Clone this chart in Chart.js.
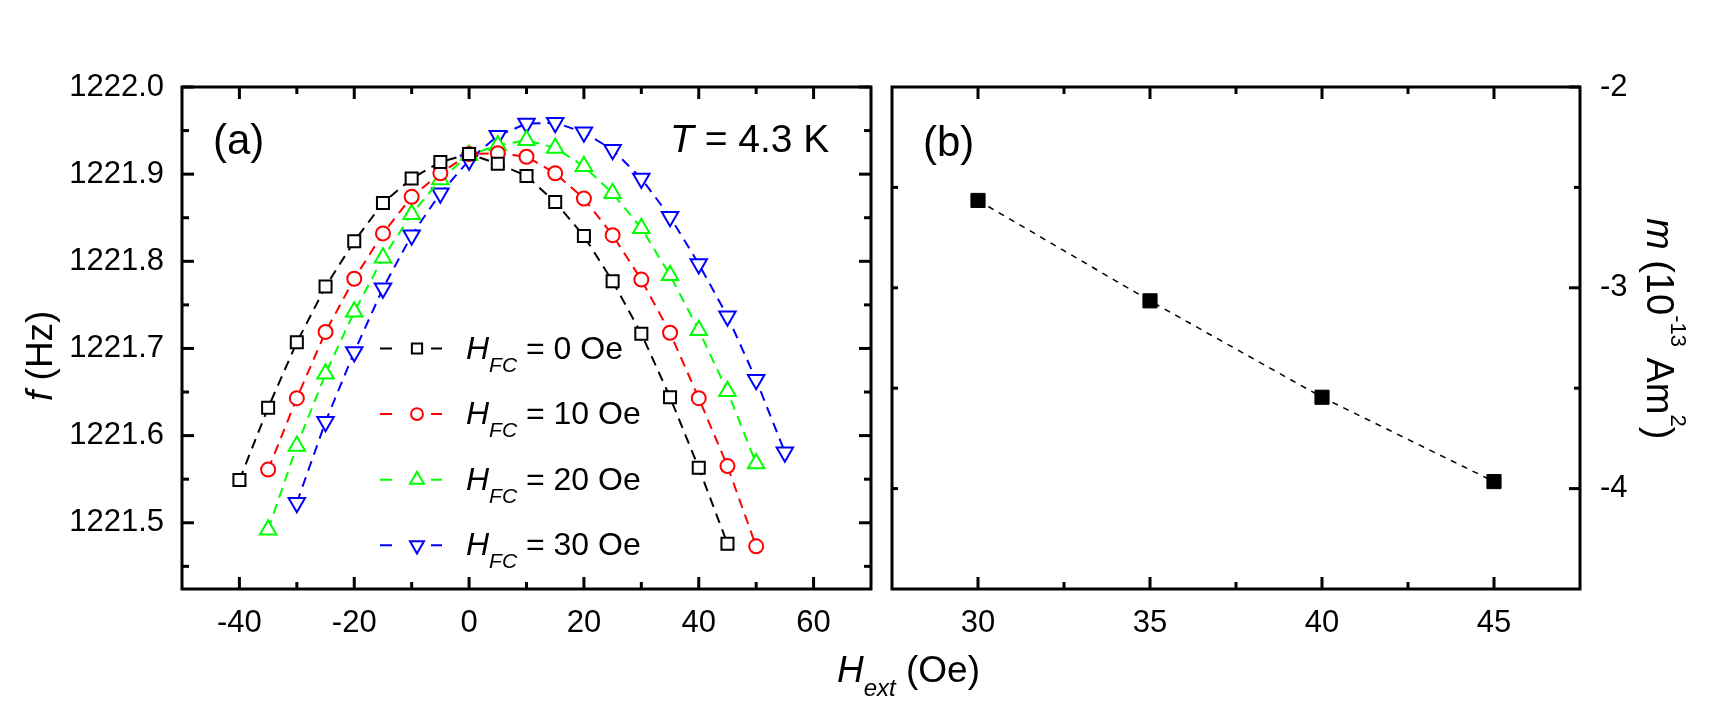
<!DOCTYPE html>
<html>
<head>
<meta charset="utf-8">
<script src="https://cdn.jsdelivr.net/npm/chart.js@4.4.0/dist/chart.umd.min.js"></script>
<style>
  html, body { margin: 0; padding: 0; background: #fff; }
  #wrap { position: relative; width: 1725px; height: 711px; }
  #wrap canvas { position: absolute; left: 0; top: 0; }
</style>
</head>
<body>
<div id="wrap">
  <canvas id="chartA" width="1725" height="711"></canvas>
  <canvas id="chartB" width="1725" height="711"></canvas>
</div>
<script>
const FONT = '"Liberation Sans", Arial, sans-serif';

// panel (a): resonance frequency vs external field, one curve per cooling field
const hFc0X = [-40, -35, -30, -25, -20, -15, -10, -5, 0, 5, 10, 15, 20, 25, 30, 35, 40, 45];
const hFc0Y = [1221.549, 1221.632, 1221.707, 1221.771, 1221.823, 1221.867, 1221.895, 1221.914, 1221.923,
               1221.912, 1221.898, 1221.868, 1221.829, 1221.777, 1221.717, 1221.644, 1221.563, 1221.476];
const hFc10X = [-35, -30, -25, -20, -15, -10, -5, 0, 5, 10, 15, 20, 25, 30, 35, 40, 45, 50];
const hFc10Y = [1221.561, 1221.643, 1221.719, 1221.780, 1221.832, 1221.874, 1221.901, 1221.923, 1221.924,
                1221.920, 1221.901, 1221.872, 1221.830, 1221.779, 1221.718, 1221.643, 1221.565, 1221.473];
const hFc20X = [-35, -30, -25, -20, -15, -10, -5, 0, 5, 10, 15, 20, 25, 30, 35, 40, 45, 50];
const hFc20Y = [1221.492, 1221.588, 1221.671, 1221.742, 1221.804, 1221.854, 1221.894, 1221.922, 1221.933,
                1221.939, 1221.930, 1221.909, 1221.878, 1221.838, 1221.784, 1221.721, 1221.651, 1221.568];
const hFc30X = [-30, -25, -20, -15, -10, -5, 0, 5, 10, 15, 20, 25, 30, 35, 40, 45, 50, 55];
const hFc30Y = [1221.523, 1221.616, 1221.696, 1221.769, 1221.830, 1221.878, 1221.916, 1221.944, 1221.958,
                1221.959, 1221.948, 1221.928, 1221.895, 1221.851, 1221.797, 1221.737, 1221.664, 1221.581];
const legendLabels = [' = 0 Oe', ' = 10 Oe', ' = 20 Oe', ' = 30 Oe'];

const hTicksA = [-40, -20, 0, 20, 40, 60];
const hMinorA = [-30, -10, 10, 30, 50];
const fTicks = [1221.5, 1221.6, 1221.7, 1221.8, 1221.9, 1222.0];
const fMinor = [1221.45, 1221.55, 1221.65, 1221.75, 1221.85, 1221.95];

// panel (b): magnetic moment vs cooling field
const hB = [30, 35, 40, 45];
const mB = [-2.565, -3.065, -3.545, -3.965];
const hTicksB = [30, 35, 40, 45];
const hMinorB = [32.5, 37.5, 42.5];
const mTicks = [-2, -3, -4];
const mMinor = [-2.5, -3.5];

function toXY(xs, ys) {
  return xs.map((x, i) => ({ x: x, y: ys[i] }));
}

function series(xs, ys, color, style, radius, rotation) {
  return {
    data: toXY(xs, ys),
    showLine: true,
    borderColor: color,
    borderWidth: 2,
    borderDash: [10, 7],
    pointStyle: style,
    pointRadius: radius,
    pointRotation: rotation || 0,
    pointBorderColor: color,
    pointBackgroundColor: '#fff',
    pointBorderWidth: 2,
    clip: false
  };
}

// own marker drawing for the hand-made legend
function drawMarker(ctx, style, x, y, r, rotation, color) {
  ctx.save();
  ctx.strokeStyle = color;
  ctx.fillStyle = '#fff';
  ctx.lineWidth = 2;
  ctx.setLineDash([]);
  ctx.beginPath();
  if (style === 'rect') {
    const s = Math.SQRT1_2 * r;
    ctx.rect(x - s, y - s, 2 * s, 2 * s);
  } else if (style === 'circle') {
    ctx.arc(x, y, r, 0, Math.PI * 2);
  } else {
    let a = rotation * Math.PI / 180;
    ctx.moveTo(x + Math.sin(a) * r, y - Math.cos(a) * r);
    a += Math.PI * 2 / 3;
    ctx.lineTo(x + Math.sin(a) * r, y - Math.cos(a) * r);
    a += Math.PI * 2 / 3;
    ctx.lineTo(x + Math.sin(a) * r, y - Math.cos(a) * r);
    ctx.closePath();
  }
  ctx.fill();
  ctx.stroke();
  ctx.restore();
}

// text made of pieces with their own size / italic / vertical shift
function drawRich(ctx, x, y, parts) {
  parts.forEach(p => {
    ctx.font = (p.italic ? 'italic ' : '') + p.size + 'px ' + FONT;
    ctx.fillText(p.t, x, y + (p.dy || 0));
    x += ctx.measureText(p.t).width;
  });
}

function tickLines(ctx, scale, values, len, side, area) {
  values.forEach(v => {
    const p = scale.getPixelForValue(v);
    ctx.beginPath();
    if (side === 'bottom') { ctx.moveTo(p, area.bottom); ctx.lineTo(p, area.bottom - len); }
    if (side === 'top') { ctx.moveTo(p, area.top); ctx.lineTo(p, area.top + len); }
    if (side === 'left') { ctx.moveTo(area.left, p); ctx.lineTo(area.left + len, p); }
    if (side === 'right') { ctx.moveTo(area.right, p); ctx.lineTo(area.right - len, p); }
    ctx.stroke();
  });
}

// box + inward ticks, lists come from plugin options
const framePlugin = {
  id: 'frame',
  afterDraw(chart, args, opts) {
    const ctx = chart.ctx, a = chart.chartArea;
    const sx = chart.scales.x, sy = chart.scales.y;
    ctx.save();
    ctx.strokeStyle = '#000';
    ctx.lineWidth = 3;
    ctx.lineCap = 'butt';
    ctx.setLineDash([]);
    ctx.strokeRect(a.left, a.top, a.right - a.left, a.bottom - a.top);
    ['bottom', 'top'].forEach(side => {
      tickLines(ctx, sx, opts.xMajor, 12, side, a);
      tickLines(ctx, sx, opts.xMinor, 7, side, a);
    });
    tickLines(ctx, sy, opts.leftMajor, opts.leftMajorLen, 'left', a);
    tickLines(ctx, sy, opts.leftMinor, opts.leftMinorLen, 'left', a);
    tickLines(ctx, sy, opts.rightMajor, opts.rightMajorLen, 'right', a);
    tickLines(ctx, sy, opts.rightMinor, opts.rightMinorLen, 'right', a);
    ctx.restore();
  }
};

const textA = {
  id: 'textA',
  afterDraw(chart) {
    const ctx = chart.ctx;
    ctx.save();
    ctx.fillStyle = '#000';
    ctx.textBaseline = 'alphabetic';
    ctx.textAlign = 'left';
    drawRich(ctx, 213, 154, [{ t: '(a)', size: 42 }]);
    drawRich(ctx, 670, 152, [{ t: 'T', size: 39, italic: true }, { t: ' = 4.3 K', size: 39 }]);

    // legend
    chart.data.datasets.forEach((ds, i) => {
      const ly = 348.5 + i * 65.6;
      ctx.strokeStyle = ds.borderColor;
      ctx.lineWidth = 2;
      ctx.beginPath();
      ctx.moveTo(380, ly); ctx.lineTo(392, ly);
      ctx.moveTo(431, ly); ctx.lineTo(442, ly);
      ctx.stroke();
      drawMarker(ctx, ds.pointStyle, 417, ly, ds.pointRadius * 0.85, ds.pointRotation, ds.borderColor);
      ctx.fillStyle = '#000';
      drawRich(ctx, 466, ly + 10, [
        { t: 'H', size: 32, italic: true },
        { t: 'FC', size: 21, italic: true, dy: 13 },
        { t: legendLabels[i], size: 32 }
      ]);
    });

    // y title, rotated
    ctx.save();
    ctx.translate(52, 401);
    ctx.rotate(-Math.PI / 2);
    drawRich(ctx, 0, 0, [{ t: 'f', size: 37, italic: true }, { t: ' (Hz)', size: 37 }]);
    ctx.restore();

    // shared x title
    drawRich(ctx, 837, 682, [
      { t: 'H', size: 37, italic: true },
      { t: 'ext', size: 24, italic: true, dy: 14 },
      { t: ' (Oe)', size: 37 }
    ]);
    ctx.restore();
  }
};

const textB = {
  id: 'textB',
  afterDraw(chart) {
    const ctx = chart.ctx;
    ctx.save();
    ctx.fillStyle = '#000';
    ctx.textBaseline = 'alphabetic';
    ctx.textAlign = 'left';
    drawRich(ctx, 923, 156, [{ t: '(b)', size: 42 }]);
    ctx.translate(1647, 218);
    ctx.rotate(Math.PI / 2);
    drawRich(ctx, 0, 0, [
      { t: 'm', size: 38, italic: true },
      { t: ' (10', size: 38 },
      { t: '-13', size: 22, dy: -24 },
      { t: ' Am', size: 38 },
      { t: '2', size: 22, dy: -24 },
      { t: ')', size: 38 }
    ]);
    ctx.restore();
  }
};

const tickFont = { family: FONT, size: 31 };

new Chart(document.getElementById('chartA'), {
  type: 'scatter',
  data: {
    datasets: [
      series(hFc0X, hFc0Y, '#000000', 'rect', 8.5, 0),
      series(hFc10X, hFc10Y, '#ff0000', 'circle', 7, 0),
      series(hFc20X, hFc20Y, '#00ff00', 'triangle', 9.5, 0),
      series(hFc30X, hFc30Y, '#0000ff', 'triangle', 9.5, 180)
    ]
  },
  options: {
    responsive: false,
    animation: false,
    events: [],
    layout: { padding: { left: 0, right: 854, top: 87, bottom: 0 } },
    plugins: {
      legend: { display: false },
      tooltip: { enabled: false },
      frame: {
        xMajor: hTicksA, xMinor: hMinorA,
        leftMajor: fTicks, leftMinor: fMinor, leftMajorLen: 12, leftMinorLen: 7,
        rightMajor: fTicks, rightMinor: fMinor, rightMajorLen: 12, rightMinorLen: 7
      }
    },
    scales: {
      x: {
        type: 'linear', min: -50, max: 70,
        afterBuildTicks: s => { s.ticks = hTicksA.map(v => ({ value: v })); },
        afterFit: s => { s.height = 122; },
        grid: { display: false }, border: { display: false },
        ticks: { font: tickFont, color: '#000', padding: 8, maxRotation: 0 }
      },
      y: {
        type: 'linear', min: 1221.424, max: 1222.0,
        afterBuildTicks: s => { s.ticks = fTicks.map(v => ({ value: v })); },
        afterFit: s => { s.width = 182; },
        grid: { display: false }, border: { display: false },
        ticks: { font: tickFont, color: '#000', padding: 10, callback: v => v.toFixed(1) }
      }
    }
  },
  plugins: [framePlugin, textA]
});

new Chart(document.getElementById('chartB'), {
  type: 'scatter',
  data: {
    datasets: [{
      data: toXY(hB, mB),
      showLine: true,
      borderColor: '#000',
      borderWidth: 1.5,
      borderDash: [6, 6],
      pointStyle: 'rect',
      pointRadius: 10,
      pointBackgroundColor: '#000',
      pointBorderColor: '#000',
      pointBorderWidth: 1,
      clip: false
    }]
  },
  options: {
    responsive: false,
    animation: false,
    events: [],
    layout: { padding: { left: 892, right: 0, top: 87, bottom: 0 } },
    plugins: {
      legend: { display: false },
      tooltip: { enabled: false },
      frame: {
        xMajor: hTicksB, xMinor: hMinorB,
        leftMajor: [-2.5, -3, -3.5, -4], leftMinor: [], leftMajorLen: 6, leftMinorLen: 6,
        rightMajor: mTicks, rightMinor: mMinor, rightMajorLen: 11, rightMinorLen: 6
      }
    },
    scales: {
      x: {
        type: 'linear', min: 27.5, max: 47.5,
        afterBuildTicks: s => { s.ticks = hTicksB.map(v => ({ value: v })); },
        afterFit: s => { s.height = 122; },
        grid: { display: false }, border: { display: false },
        ticks: { font: tickFont, color: '#000', padding: 8, maxRotation: 0 }
      },
      y: {
        type: 'linear', position: 'right', min: -4.5, max: -2,
        afterBuildTicks: s => { s.ticks = mTicks.map(v => ({ value: v })); },
        afterFit: s => { s.width = 145; },
        grid: { display: false }, border: { display: false },
        ticks: { font: tickFont, color: '#000', padding: 12 }
      }
    }
  },
  plugins: [framePlugin, textB]
});
</script>
</body>
</html>
